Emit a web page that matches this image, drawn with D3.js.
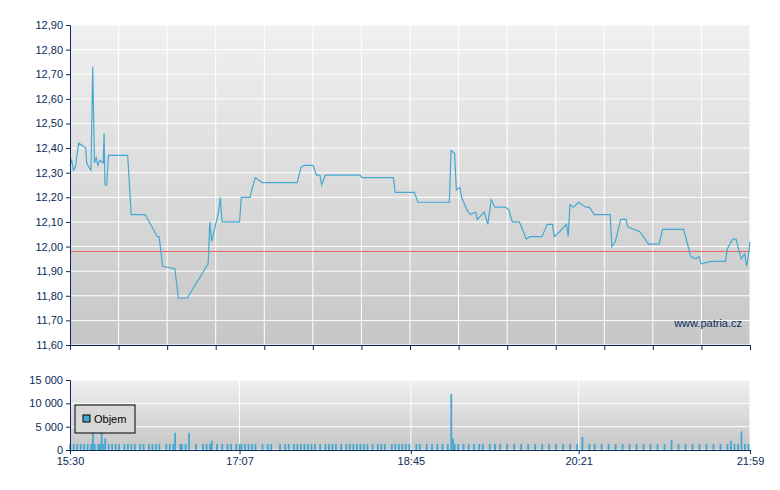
<!DOCTYPE html>
<html lang="cs">
<head>
<meta charset="utf-8">
<title>Patria - cena a objem</title>
<script src="https://cdn.jsdelivr.net/npm/d3@7"></script>
<style>body{margin:0;background:#fff} text{font-family:"Liberation Sans",Arial,sans-serif}</style>
</head>
<body>
<svg id="c" width="780" height="490"></svg>
<script>
// minuty od 15:30, cena
var priceMin = [0,1,2,3,5,7,9,9.5,11,12,13,14,15,16,17,19,19.5,20,21,22,33,35,43,50,51,53,60,62,67,79,80,81,85,86,87,97,98,103,104,106,110,125,130,132,134,139,141,143,144,146,166,167,185,186,197,199,217,218,220,221,223,224,227,229,232,233,237,239,241,243,249,251,253,257,260,261,263,270,273,276,277,280,284,285,286,288,291,295,297,300,309,310,312,315,318,319,326,331,337,339,351,354,355,358,360,361,367,375,376,379,381,384,386,387,388,389];
var priceVal = [12.33,12.35,12.31,12.32,12.42,12.41,12.40,12.34,12.32,12.31,12.73,12.34,12.36,12.33,12.35,12.34,12.46,12.25,12.25,12.37,12.37,12.13,12.13,12.04,12.04,11.92,11.91,11.79,11.79,11.93,12.10,12.02,12.14,12.20,12.10,12.10,12.20,12.20,12.23,12.28,12.26,12.26,12.26,12.32,12.33,12.33,12.29,12.29,12.25,12.29,12.29,12.28,12.28,12.22,12.22,12.18,12.18,12.39,12.38,12.23,12.24,12.20,12.15,12.13,12.14,12.11,12.14,12.09,12.19,12.16,12.16,12.15,12.10,12.10,12.05,12.03,12.04,12.04,12.09,12.09,12.04,12.06,12.09,12.04,12.17,12.16,12.18,12.16,12.16,12.13,12.13,12.00,12.02,12.11,12.11,12.08,12.06,12.01,12.01,12.07,12.07,11.99,11.96,11.95,11.96,11.93,11.94,11.94,11.99,12.03,12.03,11.95,11.97,11.92,11.96,12.02];
var refPrice = 11.98;
var volMin = [0,2,4,6,8,10,12,13,14,16,17,18,19,20,22,24,26,28,31,33,35,37,40,42,45,47,49,51,55,57,59,60,63,64,66,68,72,76,78,80,81,84,87,90,92,95,97,98,100,102,104,106,110,113,115,120,123,125,128,130,132,134,136,138,140,143,146,148,150,152,155,158,160,162,164,166,168,170,173,176,178,180,184,186,188,190,192,194,198,200,204,207,210,213,216,218,219,220,222,225,228,231,234,236,240,243,246,250,254,258,262,266,270,274,278,282,286,290,293,297,300,304,308,312,316,320,324,328,332,336,340,344,348,352,356,360,364,368,372,376,378,380,382,384,386,388];
var volVal = [1300,1300,1300,1300,1300,1300,1300,5800,1300,1300,1300,4000,1300,2500,1300,1300,1300,1300,1300,1300,1300,1300,1300,1300,1300,1300,1300,1300,1300,1300,1300,3700,1300,1300,1300,3700,1300,1300,1300,1300,2000,1300,1300,1300,1300,1300,1300,1300,1300,1300,1300,1300,1300,1300,1300,1300,1300,1300,1300,1300,1300,1300,1300,1300,1300,1300,1300,1300,1300,1300,1300,1300,1300,1300,1300,1300,1300,1300,1300,1300,1300,1300,1300,1300,1300,1300,1300,1300,1300,1300,1300,1300,1300,1300,1300,12000,2500,1300,1300,1300,1300,1300,1300,1300,1300,1300,1300,1300,1300,1300,1300,1300,1300,1300,1300,1300,1300,1300,2800,1300,1300,1300,1300,1300,1300,1300,1300,1300,1300,1300,1300,2200,1300,1300,1300,1300,1300,1300,1300,1300,2000,1300,1300,4000,1300,1300];
var priceTicks = [11.6,11.7,11.8,11.9,12.0,12.1,12.2,12.3,12.4,12.5,12.6,12.7,12.8,12.9];
var volTicks = [0,5000,10000,15000];
var timeLabels = ["15:30","17:07","18:45","20:21","21:59"];
var timeLabelMin = [0,97,195,291,389];

var svg = d3.select("#c");
var navy = "#0a2a5a", line = "#45a8d2";
var fmt = function(v){ return d3.format(".2f")(v).replace(".", ","); };
var fmtVol = function(v){ return d3.format(",")(v).replace(/,/g, " "); };

var x = d3.scaleLinear().domain([0, 389]).range([70, 750]);
var y = d3.scaleLinear().domain([11.6, 12.9]).range([345, 25]);
var yv = d3.scaleLinear().domain([0, 15000]).range([450, 380]);

var defs = svg.append("defs");
var g = defs.append("linearGradient").attr("id", "bg").attr("x1", 0).attr("y1", 0).attr("x2", 0).attr("y2", 1);
g.append("stop").attr("offset", 0).attr("stop-color", "#f0f0f0");
g.append("stop").attr("offset", 1).attr("stop-color", "#c6c6c6");

// horní panel
svg.append("rect").attr("x", 70).attr("y", 25).attr("width", 680).attr("height", 320).attr("fill", "url(#bg)");
var grid = svg.append("g").attr("stroke", "#fff").attr("stroke-width", 1);
priceTicks.forEach(function(t){ grid.append("line").attr("x1", 70).attr("x2", 750).attr("y1", y(t)).attr("y2", y(t)); });
var xTicks = d3.range(15).map(function(i){ return i * 389 / 14; });
xTicks.forEach(function(t){ grid.append("line").attr("x1", x(t)).attr("x2", x(t)).attr("y1", 25).attr("y2", 345); });

svg.append("line").attr("x1", 70).attr("x2", 750).attr("y1", y(refPrice)).attr("y2", y(refPrice))
  .attr("stroke", "#e84a4a").attr("stroke-width", 1).attr("stroke-opacity", 0.8);

var pts = priceMin.map(function(m, i){ return [m, priceVal[i]]; });
svg.append("path").datum(pts)
  .attr("d", d3.line().x(function(d){ return x(d[0]); }).y(function(d){ return y(d[1]); }))
  .attr("fill", "none").attr("stroke", line).attr("stroke-width", 1.2);

svg.append("g").attr("transform", "translate(70,0)")
  .call(d3.axisLeft(y).tickValues(priceTicks).tickFormat(fmt).tickSize(4))
  .call(function(a){ a.selectAll("path,line").attr("stroke", navy); a.selectAll("text").attr("fill", navy).attr("font-size", 11); });
svg.append("g").attr("transform", "translate(0,345)")
  .call(d3.axisBottom(x).tickValues(xTicks).tickFormat("").tickSize(5).tickSizeOuter(0))
  .call(function(a){ a.selectAll("path,line").attr("stroke", navy); });

svg.append("text").attr("x", 742).attr("y", 327).attr("text-anchor", "end")
  .attr("font-size", 11).attr("fill", navy).text("www.patria.cz");

// objem
svg.append("rect").attr("x", 70).attr("y", 380).attr("width", 680).attr("height", 70).attr("fill", "url(#bg)");
var vg = svg.append("g").attr("stroke", "#fff");
volTicks.forEach(function(t){ vg.append("line").attr("x1", 70).attr("x2", 750).attr("y1", yv(t)).attr("y2", yv(t)); });
timeLabelMin.forEach(function(t){ vg.append("line").attr("x1", x(t)).attr("x2", x(t)).attr("y1", 380).attr("y2", 450); });

svg.append("g").selectAll("rect").data(volMin).join("rect")
  .attr("x", function(d){ return x(d) - 0.7; }).attr("width", 1.8)
  .attr("y", function(d, i){ return yv(volVal[i]); })
  .attr("height", function(d, i){ return 450 - yv(volVal[i]); })
  .attr("fill", line);

svg.append("g").attr("transform", "translate(70,0)")
  .call(d3.axisLeft(yv).tickValues(volTicks).tickFormat(fmtVol).tickSize(4))
  .call(function(a){ a.selectAll("path,line").attr("stroke", navy); a.selectAll("text").attr("fill", navy).attr("font-size", 11); });
svg.append("g").attr("transform", "translate(0,450)")
  .call(d3.axisBottom(x).tickValues(timeLabelMin).tickFormat(function(d, i){ return timeLabels[i]; }).tickSize(4).tickSizeOuter(0))
  .call(function(a){ a.selectAll("path,line").attr("stroke", navy); a.selectAll("text").attr("fill", navy).attr("font-size", 11); });

var lg = svg.append("g").attr("transform", "translate(75,405)");
lg.append("rect").attr("width", 60).attr("height", 28).attr("fill", "#d8d8d8").attr("stroke", "#000");
lg.append("rect").attr("x", 8).attr("y", 10).attr("width", 7).attr("height", 7).attr("fill", line).attr("stroke", "#000");
lg.append("text").attr("x", 19).attr("y", 18).attr("font-size", 11).attr("fill", "#000").text("Objem");
</script>
</body>
</html>
